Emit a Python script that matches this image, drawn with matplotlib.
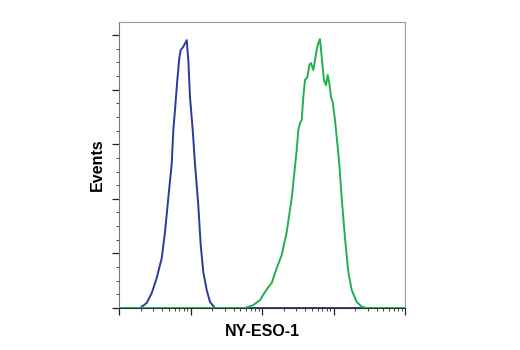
import matplotlib
matplotlib.use("Agg")
import matplotlib.pyplot as plt
from matplotlib.ticker import LogLocator, NullFormatter, MultipleLocator

# Blue histogram (control)
blue_x = [10, 19.7, 24.4, 28.7, 33.7, 39.6, 44.0, 48.9, 54.6, 57.5, 60.7, 65.4, 69.7,
          72.9, 79.3, 88.5, 93.2, 98.4, 107.4, 115.6, 128.5, 138.9, 151.0, 168.5,
          187.4, 220.1, 100000]
blue_y = [0, 0, 4.6, 13.7, 27.5, 45.8, 69.6, 100.7, 131.9, 163, 181.3, 208.8, 228.9,
          236.3, 239.3, 245.4, 227.1, 193.2, 163, 131.9, 94.3, 57.7, 33, 16.5,
          5.5, 0, 0]

# Green histogram (NY-ESO-1)
green_x = [10, 578, 755, 938, 1102, 1225, 1367, 1606, 1886, 2216, 2603, 2894, 3057,
           3219, 3401, 3592, 3781, 3994, 4301, 4587, 4845, 5218, 5511, 5821, 6131,
           6476, 6839, 7365, 7856, 8297, 8735, 9226, 9746, 10496, 11303, 12053,
           13021, 14481, 16106, 17967, 21114, 24803, 29130, 100000]
green_y = [0, 0, 2.7, 7.3, 14.7, 19.2, 22.9, 36.6, 48.5, 69.6, 100.7, 129.6, 144.7,
           163, 169.4, 172.2, 193.2, 208.8, 211.5, 222.5, 224.4, 218, 227.1, 236.3, 242.7,
           246.3, 229.9, 208.8, 204.2, 213.4, 206, 193.2, 188.6, 172.2, 151.1, 131.9,
           100.7, 64.1, 33, 16.5, 5.5, 1.2, 0, 0]

x_label = "NY-ESO-1"
y_label = "Events"

fig = plt.figure(figsize=(5.2, 3.5), dpi=100)
ax = fig.add_axes([119/520, 42/350, 286/520, 286/350])

ax.plot(blue_x, blue_y, color="#2b3a9b", lw=1.4, zorder=3)
ax.plot(green_x, green_y, color="#1fb050", lw=1.4, zorder=4)

ax.set_xscale("log")
ax.set_xlim(10, 100000)
ax.set_ylim(0, 262)

ax.xaxis.set_major_locator(LogLocator(base=10, numticks=10))
ax.xaxis.set_minor_locator(LogLocator(base=10, subs=range(2, 10), numticks=20))
ax.xaxis.set_major_formatter(NullFormatter())
ax.xaxis.set_minor_formatter(NullFormatter())
ax.yaxis.set_major_locator(MultipleLocator(50))
ax.yaxis.set_minor_locator(MultipleLocator(12.5))
ax.yaxis.set_major_formatter(NullFormatter())

for s in ax.spines.values():
    s.set_color("#999999")
    s.set_linewidth(0.8)
ax.spines["bottom"].set_color("#333333")
ax.spines["left"].set_color("#777777")

ax.tick_params(which="major", length=5, width=0.9, color="#222222", direction="out")
ax.tick_params(which="minor", length=2.5, width=0.7, color="#444444", direction="out")

fam = ["Liberation Sans", "DejaVu Sans"]
ax.set_xlabel(x_label, fontsize=11.5, fontweight="bold", family=fam, labelpad=3)
ax.set_ylabel(y_label, fontsize=11.5, fontweight="bold", family=fam, labelpad=2)

fig.savefig("out.png", dpi=100)
